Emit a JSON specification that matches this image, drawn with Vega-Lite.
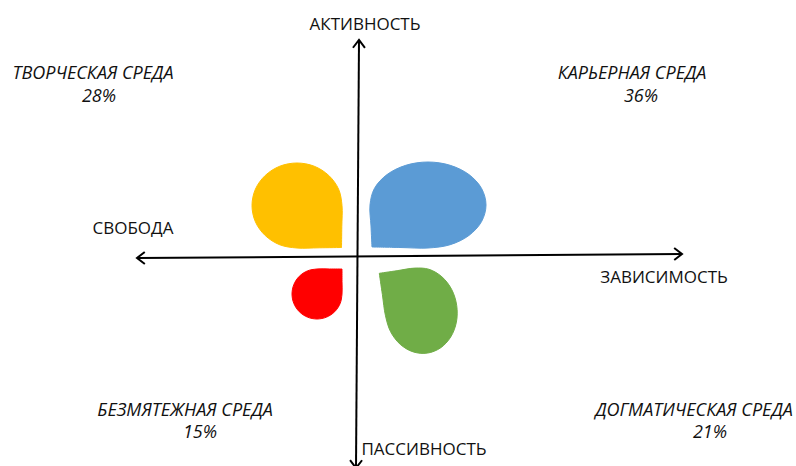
{
  "$schema": "https://vega.github.io/schema/vega-lite/v6.json",
  "width": 796,
  "height": 466,
  "padding": 0,
  "autosize": "none",
  "background": "white",
  "config": {"view": {"stroke": null}, "font": "Open Sans"},
  "datasets": {
    "petals": [
      {"petal": "Творческая", "i": 0, "x": -15.5, "y": 8.5},
      {"petal": "Творческая", "i": 0.5, "x": -15.2, "y": 29.5},
      {"petal": "Творческая", "i": 1, "x": -15, "y": 50.5},
      {"petal": "Творческая", "i": 2, "x": -18.4, "y": 66.8},
      {"petal": "Творческая", "i": 3, "x": -28.2, "y": 80.5},
      {"petal": "Творческая", "i": 4, "x": -42.8, "y": 89.8},
      {"petal": "Творческая", "i": 5, "x": -60, "y": 93},
      {"petal": "Творческая", "i": 6, "x": -77.2, "y": 89.8},
      {"petal": "Творческая", "i": 7, "x": -91.8, "y": 80.5},
      {"petal": "Творческая", "i": 8, "x": -101.6, "y": 66.8},
      {"petal": "Творческая", "i": 9, "x": -105, "y": 50.5},
      {"petal": "Творческая", "i": 10, "x": -101.6, "y": 34.2},
      {"petal": "Творческая", "i": 11, "x": -91.8, "y": 20.5},
      {"petal": "Творческая", "i": 12, "x": -77.2, "y": 11.2},
      {"petal": "Творческая", "i": 13, "x": -60, "y": 8},
      {"petal": "Творческая", "i": 13.5, "x": -37.8, "y": 8.2},
      {"petal": "Творческая", "i": 14, "x": -15.5, "y": 8.5},
      {"petal": "Карьерная", "i": 0, "x": 15, "y": 9},
      {"petal": "Карьерная", "i": 0.5, "x": 14, "y": 30},
      {"petal": "Карьерная", "i": 1, "x": 13, "y": 51},
      {"petal": "Карьерная", "i": 2, "x": 17.4, "y": 67.5},
      {"petal": "Карьерная", "i": 3, "x": 30, "y": 81.4},
      {"petal": "Карьерная", "i": 4, "x": 48.8, "y": 90.7},
      {"petal": "Карьерная", "i": 5, "x": 71, "y": 94},
      {"petal": "Карьерная", "i": 6, "x": 93.2, "y": 90.7},
      {"petal": "Карьерная", "i": 7, "x": 112, "y": 81.4},
      {"petal": "Карьерная", "i": 8, "x": 124.6, "y": 67.5},
      {"petal": "Карьерная", "i": 9, "x": 129, "y": 51},
      {"petal": "Карьерная", "i": 10, "x": 124.6, "y": 34.5},
      {"petal": "Карьерная", "i": 11, "x": 112, "y": 20.6},
      {"petal": "Карьерная", "i": 12, "x": 93.2, "y": 11.3},
      {"petal": "Карьерная", "i": 13, "x": 71, "y": 8},
      {"petal": "Карьерная", "i": 13.5, "x": 43, "y": 8.5},
      {"petal": "Карьерная", "i": 14, "x": 15, "y": 9},
      {"petal": "Безмятежная", "i": 0, "x": -15, "y": -13},
      {"petal": "Безмятежная", "i": 0.5, "x": -27.5, "y": -13},
      {"petal": "Безмятежная", "i": 1, "x": -40, "y": -13},
      {"petal": "Безмятежная", "i": 2, "x": -49.6, "y": -14.9},
      {"petal": "Безмятежная", "i": 3, "x": -57.7, "y": -20.3},
      {"petal": "Безмятежная", "i": 4, "x": -63.1, "y": -28.4},
      {"petal": "Безмятежная", "i": 5, "x": -65, "y": -38},
      {"petal": "Безмятежная", "i": 6, "x": -63.1, "y": -47.6},
      {"petal": "Безмятежная", "i": 7, "x": -57.7, "y": -55.7},
      {"petal": "Безмятежная", "i": 8, "x": -49.6, "y": -61.1},
      {"petal": "Безмятежная", "i": 9, "x": -40, "y": -63},
      {"petal": "Безмятежная", "i": 10, "x": -30.4, "y": -61.1},
      {"petal": "Безмятежная", "i": 11, "x": -22.3, "y": -55.7},
      {"petal": "Безмятежная", "i": 12, "x": -16.9, "y": -47.6},
      {"petal": "Безмятежная", "i": 13, "x": -15, "y": -38},
      {"petal": "Безмятежная", "i": 13.5, "x": -15, "y": -25.5},
      {"petal": "Безмятежная", "i": 14, "x": -15, "y": -13},
      {"petal": "Догматическая", "i": 0, "x": 22.3, "y": -17.3},
      {"petal": "Догматическая", "i": 0.5, "x": 40.1, "y": -14.7},
      {"petal": "Догматическая", "i": 1, "x": 57.9, "y": -12.1},
      {"petal": "Догматическая", "i": 2, "x": 72.0, "y": -13.3},
      {"petal": "Догматическая", "i": 3, "x": 84.9, "y": -20.8},
      {"petal": "Догматическая", "i": 4, "x": 94.7, "y": -33.5},
      {"petal": "Догматическая", "i": 5, "x": 99.7, "y": -49.4},
      {"petal": "Догматическая", "i": 6, "x": 99.4, "y": -66.1},
      {"petal": "Догматическая", "i": 7, "x": 93.7, "y": -81.0},
      {"petal": "Догматическая", "i": 8, "x": 83.5, "y": -91.9},
      {"petal": "Догматическая", "i": 9, "x": 70.4, "y": -97.1},
      {"petal": "Догматическая", "i": 10, "x": 56.3, "y": -95.9},
      {"petal": "Догматическая", "i": 11, "x": 43.3, "y": -88.4},
      {"petal": "Догматическая", "i": 12, "x": 33.6, "y": -75.7},
      {"petal": "Догматическая", "i": 13, "x": 28.5, "y": -59.8},
      {"petal": "Догматическая", "i": 13.5, "x": 25.4, "y": -38.6},
      {"petal": "Догматическая", "i": 14, "x": 22.3, "y": -17.3}
    ],
    "axes": [
      {"x": -220, "y": -2, "x2": 325, "y2": 2},
      {"x": 2, "y": 216, "x2": -1, "y2": -212}
    ],
    "arrows": [
      {"x": 325, "y": 2, "angle": -0.4},
      {"x": -220, "y": -2, "angle": 179.6},
      {"x": 2, "y": 216, "angle": 270.4},
      {"x": -1, "y": -212, "angle": 90.4}
    ],
    "axisLabels": [
      {"label": "АКТИВНОСТЬ", "x": 8, "y": 231},
      {"label": "ПАССИВНОСТЬ", "x": 67, "y": -194},
      {"label": "СВОБОДА", "x": -224, "y": 27},
      {"label": "ЗАВИСИМОСТЬ", "x": 307, "y": -22}
    ],
    "quadrantLabels": [
      {"label": "ТВОРЧЕСКАЯ СРЕДА", "x": -264, "y": 182},
      {"label": "28%", "x": -258, "y": 159},
      {"label": "КАРЬЕРНАЯ СРЕДА", "x": 275, "y": 182},
      {"label": "36%", "x": 284, "y": 159},
      {"label": "БЕЗМЯТЕЖНАЯ СРЕДА", "x": -172, "y": -155},
      {"label": "15%", "x": -157, "y": -177},
      {"label": "ДОГМАТИЧЕСКАЯ СРЕДА", "x": 337, "y": -155},
      {"label": "21%", "x": 353, "y": -177}
    ]
  },
  "encoding": {
    "x": {"field": "x", "type": "quantitative", "scale": {"domain": [-357, 439], "nice": false, "zero": false}, "axis": null},
    "y": {"field": "y", "type": "quantitative", "scale": {"domain": [-210, 256], "nice": false, "zero": false}, "axis": null}
  },
  "layer": [
    {
      "data": {"name": "petals"},
      "mark": {"type": "line", "interpolate": "catmull-rom", "strokeWidth": 1},
      "encoding": {
        "order": {"field": "i", "type": "quantitative"},
        "color": {"field": "petal", "type": "nominal", "legend": null,
          "scale": {"domain": ["Творческая", "Карьерная", "Безмятежная", "Догматическая"], "range": ["#FFC000", "#5B9BD5", "#FF0000", "#70AD47"]}},
        "fill": {"field": "petal", "type": "nominal", "legend": null,
          "scale": {"domain": ["Творческая", "Карьерная", "Безмятежная", "Догматическая"], "range": ["#FFC000", "#5B9BD5", "#FF0000", "#70AD47"]}}
      }
    },
    {
      "data": {"name": "axes"},
      "mark": {"type": "rule", "color": "black", "strokeWidth": 2},
      "encoding": {
        "x2": {"field": "x2"},
        "y2": {"field": "y2"}
      }
    },
    {
      "data": {"name": "arrows"},
      "mark": {"type": "point", "shape": "M -1.3 -1 L 0 0 L -1.3 1", "size": 144, "filled": false, "color": "black", "strokeWidth": 2, "opacity": 1},
      "encoding": {
        "angle": {"field": "angle", "type": "quantitative", "scale": null}
      }
    },
    {
      "data": {"name": "axisLabels"},
      "mark": {"type": "text", "fontSize": 17, "color": "#111111", "align": "center", "baseline": "middle"},
      "encoding": {"text": {"field": "label"}}
    },
    {
      "data": {"name": "quadrantLabels"},
      "mark": {"type": "text", "fontSize": 18, "fontStyle": "italic", "color": "#111111", "align": "center", "baseline": "middle"},
      "encoding": {"text": {"field": "label"}}
    }
  ]
}
